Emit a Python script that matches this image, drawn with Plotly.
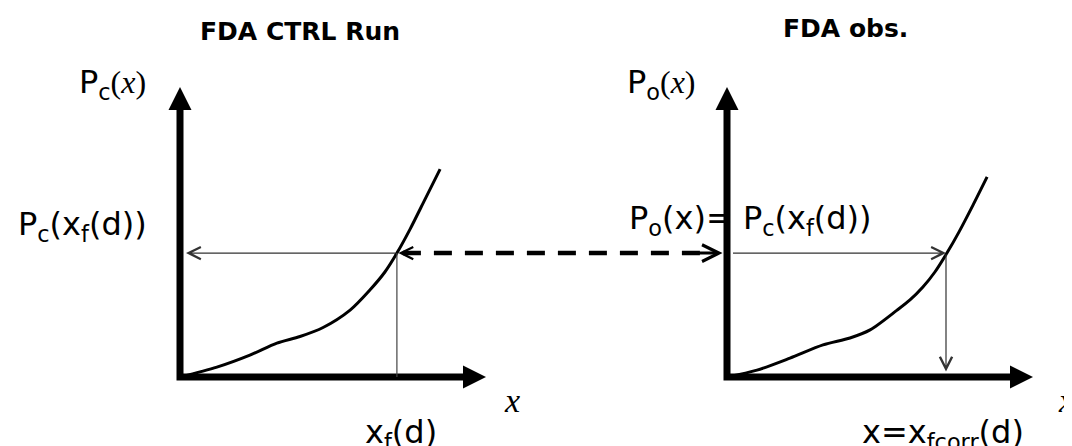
import plotly.graph_objects as go

# --- data (panel units, 1 unit = 30 px) ---
ctrl_x = [0, 1.23, 2.33, 3.23, 4.0, 4.77, 5.67, 6.33, 6.83, 7.23, 7.67, 8.17, 8.67]
ctrl_y = [0, 0.33, 0.73, 1.13, 1.35, 1.65, 2.23, 2.9, 3.5, 4.13, 4.93, 5.93, 6.93]
obs_x = [0, 1.0, 2.1, 3.2, 4.1, 4.77, 5.67, 6.1, 6.53, 6.93, 7.33, 7.73, 8.2, 8.67]
obs_y = [0, 0.23, 0.63, 1.07, 1.3, 1.57, 2.23, 2.57, 3.0, 3.5, 4.13, 4.83, 5.73, 6.67]
x_f = 7.23        # x_f(d) on the control curve
p_level = 4.13    # P_c(x_f(d))
x_fcorr = 7.3     # corrected x on the obs curve

titles = ['FDA CTRL Run', 'FDA obs.']

# --- layout helpers ---
PAGE = 8                   # browser body margin
W, H = 1072 - PAGE, 446 - PAGE
UNIT = 30
OX, OY = 180 - PAGE, 377 - PAGE   # pixel origin of left panel
RX = (727 - 180) / UNIT    # right panel origin offset
AX_LEN, AY_LEN = 10.2, 9.67
HEAD = 23


def px(x):
    return (x - PAGE) / W


def py(y):
    return 1 - (y - PAGE) / H


fig = go.Figure()

for x0, cx, cy in [(0, ctrl_x, ctrl_y), (RX, obs_x, obs_y)]:
    # thick axes
    fig.add_trace(go.Scatter(
        x=[x0, x0, x0 + AX_LEN - HEAD / UNIT + 0.1],
        y=[AY_LEN - HEAD / UNIT + 0.1, 0, 0],
        mode='lines', line=dict(color='black', width=7)))
    fig.add_trace(go.Scatter(
        x=[x0, x0 + AX_LEN], y=[AY_LEN, 0], mode='markers',
        marker=dict(symbol=['arrow-up', 'arrow-right'], size=HEAD,
                    color='black', line=dict(width=0))))
    # curve
    fig.add_trace(go.Scatter(
        x=[x0 + v for v in cx], y=cy, mode='lines',
        line=dict(color='black', width=3, shape='spline', smoothing=0.8)))

# left vertical thin line
fig.add_trace(go.Scatter(x=[x_f, x_f], y=[0, p_level], mode='lines',
                         line=dict(color='#444', width=1.2)))
# dashed connector
fig.add_trace(go.Scatter(x=[x_f + 0.2, RX - 0.5], y=[p_level, p_level],
                         mode='lines',
                         line=dict(color='black', width=4.5, dash='18px,13px')))


def arrow(x0, y0, x1, y1, width=1.2, size=2.0, head=5, color='#333'):
    fig.add_annotation(x=x1, y=y1, ax=x0, ay=y0, xref='x', yref='y',
                       axref='x', ayref='y', text='', showarrow=True,
                       arrowhead=head, arrowwidth=width, arrowsize=size,
                       arrowcolor=color, standoff=0, startstandoff=0)


arrow(x_f, p_level, 0.2, p_level)                      # to left y-axis
arrow(x_f + 0.6, p_level, x_f + 0.05, p_level, width=1.5, size=1.6, color='black')
arrow(RX - 1.0, p_level, RX - 0.15, p_level, width=3, size=1.1, color='black')
arrow(RX + 0.15, p_level, RX + x_fcorr, p_level)       # across to obs curve
arrow(RX + x_fcorr, p_level, RX + x_fcorr, 0.18)       # down to x axis

SANS = 'DejaVu Sans'
SERIF = "<span style='font-family:Liberation Serif'>"


def label(text, x, y, size=32, bold=False, family=SANS):
    fig.add_annotation(x=px(x), y=py(y), xref='paper', yref='paper',
                       text=text, showarrow=False, xanchor='center',
                       yanchor='middle',
                       font=dict(family=family, size=size, color='black',
                                 weight='bold' if bold else 'normal'))


label(titles[0], 300, 31, size=25, bold=True)
label(titles[1], 845, 28, size=25, bold=True)
label('P<sub>c</sub>' + SERIF + '(<i>x</i>)</span>', 112, 84)
label('P<sub>o</sub>' + SERIF + '(<i>x</i>)</span>', 661, 84)
label('P<sub>c</sub>(x<sub>f</sub>(d))', 82, 226)
label('P<sub>o</sub>(x)= P<sub>c</sub>(x<sub>f</sub>(d))', 750, 220)
label('x<sub>f</sub>(d)', 401, 434)
label('x=x<sub>fcorr</sub>(d)', 943, 434)
label('<i>x</i>', 512, 400, size=34, family='Liberation Serif')
label('<i>x</i>', 1066, 400, size=34, family='Liberation Serif')

fig.update_layout(
    width=W, height=H,
    margin=dict(l=0, r=0, t=0, b=0),
    paper_bgcolor='white', plot_bgcolor='white',
    showlegend=False,
    xaxis=dict(visible=False, range=[-OX / UNIT, (W - OX) / UNIT], fixedrange=True),
    yaxis=dict(visible=False, range=[(OY - H) / UNIT, OY / UNIT], fixedrange=True),
)

fig.write_html("out.html")
